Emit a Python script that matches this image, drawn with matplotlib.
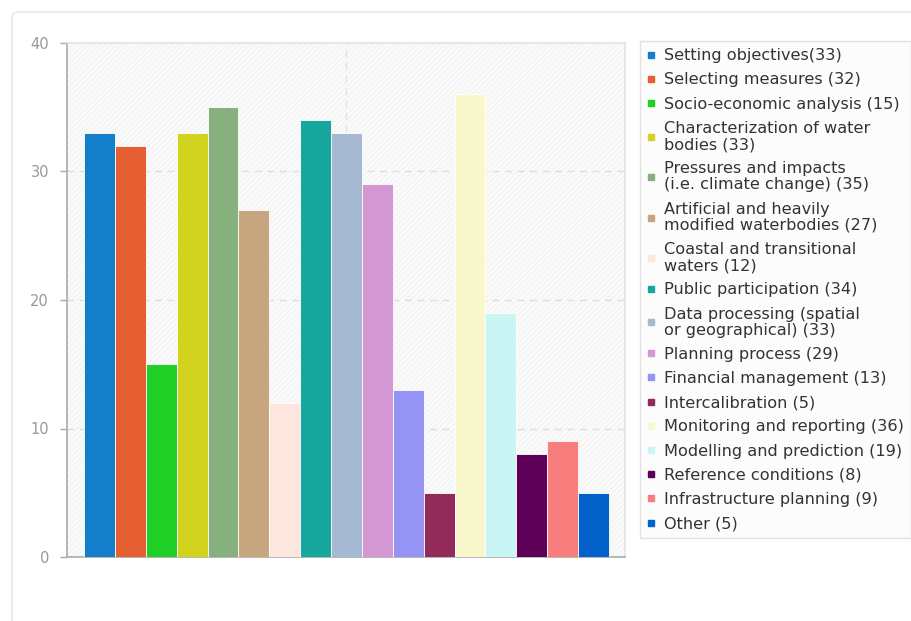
import matplotlib
matplotlib.use("Agg")
import matplotlib.pyplot as plt
from matplotlib.lines import Line2D
from matplotlib.patches import Rectangle, FancyBboxPatch

categories = [
    "Setting objectives(33)",
    "Selecting measures (32)",
    "Socio-economic analysis (15)",
    "Characterization of water\nbodies (33)",
    "Pressures and impacts\n(i.e. climate change) (35)",
    "Artificial and heavily\nmodified waterbodies (27)",
    "Coastal and transitional\nwaters (12)",
    "Public participation (34)",
    "Data processing (spatial\nor geographical) (33)",
    "Planning process (29)",
    "Financial management (13)",
    "Intercalibration (5)",
    "Monitoring and reporting (36)",
    "Modelling and prediction (19)",
    "Reference conditions (8)",
    "Infrastructure planning (9)",
    "Other (5)",
]
values = [33, 32, 15, 33, 35, 27, 12, 34, 33, 29, 13, 5, 36, 19, 8, 9, 5]
colors = [
    "#137fca", "#e55f33", "#20cf25", "#d2d31f", "#87b07f", "#c6a57f",
    "#fce6dd", "#18a79f", "#a5b9d3", "#d397d4", "#9593f4", "#922a5a",
    "#f9f7cc", "#c9f5f5", "#5e0058", "#f87d7d", "#0262c9",
]
y_ticks = [0, 10, 20, 30, 40]

plt.rcParams["font.family"] = ["DejaVu Sans"]
plt.rcParams["hatch.linewidth"] = 0.6

fig = plt.figure(figsize=(9.12, 6.21), dpi=100)

# outer card frame
card = FancyBboxPatch((12 / 912, -0.05), 1.2, 1 - 12 / 621 + 0.05,
                      boxstyle="round,pad=0,rounding_size=0.008",
                      transform=fig.transFigure, facecolor="none",
                      edgecolor="#e6e6e6", linewidth=1.2, zorder=-5)
fig.patches.append(card)

ax = fig.add_axes([67 / 912, 1 - 557 / 621, (625 - 67) / 912, (557 - 43) / 621])
ax.set_facecolor("#fafafa")
ax.add_patch(Rectangle((0, 0), 1, 1, transform=ax.transAxes, facecolor="none",
                       edgecolor="#f0f0f0", hatch="//////", linewidth=0, zorder=0))

x = list(range(len(values)))
ax.bar(x, values, width=1.0, color=colors, edgecolor="white", linewidth=0.6, zorder=3)

ax.set_xlim(-1.05, 17.02)
ax.set_ylim(0, 40)
ax.set_yticks(y_ticks)
ax.set_xticks([])
ax.tick_params(axis="y", colors="#aaaaaa", labelcolor="#999999", labelsize=10.5,
               length=5, width=1, pad=8)

for y in y_ticks[1:-1]:
    ax.axhline(y, color="#dedede", linestyle=(0, (5, 4)), linewidth=1, zorder=1)
ax.axvline(sum(ax.get_xlim()) / 2, color="#e2e2e2", linestyle=(0, (5, 4)),
           linewidth=1, zorder=1)

ax.spines["left"].set_color("#aaaaaa")
ax.spines["bottom"].set_color("#aaaaaa")
ax.spines["top"].set_color("#e3e3e3")
ax.spines["right"].set_color("#e3e3e3")
for s in ax.spines.values():
    s.set_linewidth(1.2)

handles = [Line2D([], [], marker="s", linestyle="", markersize=4,
                  markerfacecolor=c, markeredgecolor=c) for c in colors]
leg = fig.legend(handles, categories, loc="upper left",
                 bbox_to_anchor=(640 / 912, 1 - 41 / 621),
                 bbox_transform=fig.transFigure, fontsize=11.6,
                 handlelength=0.5, handletextpad=0.55, labelspacing=0.57,
                 borderpad=0.45, borderaxespad=0, fancybox=False, framealpha=1,
                 edgecolor="#e2e2e2", facecolor="#fcfcfc", labelcolor="#333333")
leg.get_frame().set_linewidth(1.0)
for t in leg.get_texts():
    t.set_linespacing(1.1)

fig.savefig("out.png", dpi=100)
